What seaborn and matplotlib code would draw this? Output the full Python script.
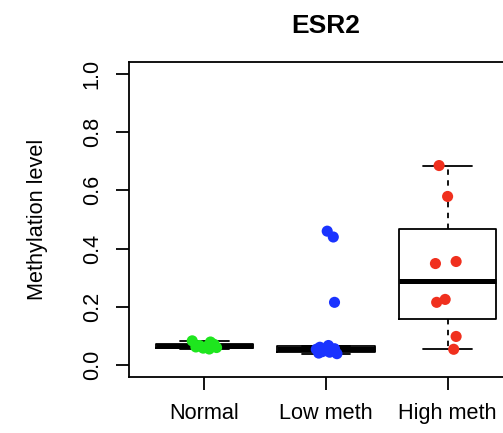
import numpy as np
import pandas as pd
import matplotlib
matplotlib.use("Agg")
import matplotlib.pyplot as plt
import seaborn as sns

# --- data ---
groups = ["Normal", "Low meth", "High meth"]
colors = ["#1ee61e", "#1a33ff", "#f0301e"]

normal_vals = [0.084, 0.080, 0.072, 0.068, 0.065, 0.063, 0.061, 0.059, 0.056]
normal_jit = [-0.10, 0.05, 0.08, -0.04, 0.02, -0.07, 0.10, -0.01, 0.04]

low_vals = [0.460, 0.440, 0.216, 0.068, 0.062, 0.057, 0.055, 0.052, 0.050, 0.047, 0.045, 0.042, 0.040]
low_jit = [0.01, 0.06, 0.07, 0.02, -0.05, 0.07, -0.08, 0.00, 0.05, -0.03, 0.03, -0.06, 0.09]

high_vals = [0.685, 0.579, 0.356, 0.349, 0.226, 0.216, 0.099, 0.055]
high_jit = [-0.07, 0.00, 0.07, -0.10, -0.02, -0.09, 0.07, 0.05]

yticks = [0.0, 0.2, 0.4, 0.6, 0.8, 1.0]


def fivenum(vals):
    # Tukey hinges, as R's boxplot does
    x = np.sort(np.asarray(vals, dtype=float))
    n = len(x)
    n4 = np.floor((n + 3) / 2) / 2
    d = np.array([1, n4, (n + 1) / 2, n + 1 - n4, n]) - 1
    return 0.5 * (x[np.floor(d).astype(int)] + x[np.ceil(d).astype(int)])


def box_stats(vals):
    lo, q1, med, q3, hi = fivenum(vals)
    iqr = q3 - q1
    v = np.asarray(vals)
    inside = v[(v >= q1 - 1.5 * iqr) & (v <= q3 + 1.5 * iqr)]
    return dict(med=med, q1=q1, q3=q3, whislo=inside.min(), whishi=inside.max(), fliers=[])


all_vals = [normal_vals, low_vals, high_vals]
all_jit = [normal_jit, low_jit, high_jit]

df = pd.DataFrame({
    "group": np.repeat(groups, [len(v) for v in all_vals]),
    "value": np.concatenate(all_vals),
    "xpos": np.concatenate([i + np.asarray(j) for i, j in enumerate(all_jit)]),
})

sns.set_style("white")
plt.rcParams["font.family"] = ["Liberation Sans", "DejaVu Sans"]
plt.rcParams["text.color"] = "black"
plt.rcParams["axes.labelcolor"] = "black"

fig = plt.figure(figsize=(5.03, 4.33), dpi=100)
ax = fig.add_axes([129 / 503, 56 / 433, 394 / 503, 315 / 433])

ax.bxp(
    [box_stats(v) for v in all_vals],
    positions=range(len(groups)),
    widths=0.8,
    showfliers=False,
    boxprops=dict(color="black", linewidth=1.3),
    medianprops=dict(color="black", linewidth=3.6, solid_capstyle="butt"),
    whiskerprops=dict(color="black", linewidth=1.3, linestyle=(0, (3, 3))),
    capprops=dict(color="black", linewidth=1.3),
    capwidths=0.4,
)

sns.scatterplot(
    data=df, x="xpos", y="value", hue="group", palette=colors,
    s=64, linewidth=0, legend=False, ax=ax, zorder=3,
)

ax.set_xlim(-0.62, 2.62)
ax.set_ylim(-0.04, 1.04)
ax.set_xticks(range(len(groups)))
ax.set_xticklabels(groups)
ax.set_yticks(yticks)
ax.set_yticklabels([f"{t:.1f}" for t in yticks])
for lab in ax.get_yticklabels():
    lab.set_rotation(90)
    lab.set_va("center")

ax.tick_params(axis="both", direction="out", length=9.4, width=1.3,
               labelsize=15.6, pad=9.5, color="black", labelcolor="black")
ax.tick_params(axis="both", which="both", bottom=True, left=True)

for sp in ax.spines.values():
    sp.set_visible(True)
    sp.set_color("black")
    sp.set_linewidth(1.3)

ax.set_xlabel("")
ax.set_ylabel("Methylation level", fontsize=15.6, va="center", color="black")
ax.yaxis.set_label_coords(-0.231, 0.5)
ax.set_title("ESR2", fontsize=19, fontweight="bold", pad=21, color="black")

fig.savefig("out.png", dpi=100)
